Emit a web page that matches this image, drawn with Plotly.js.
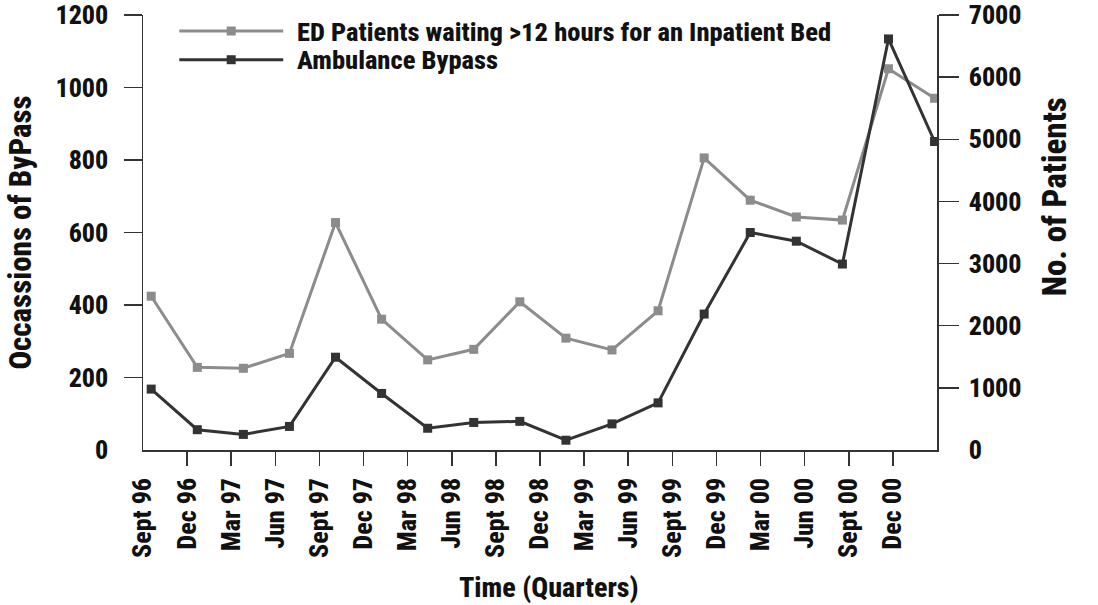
<!DOCTYPE html>
<html>
<head>
<meta charset="utf-8">
<script src="https://cdn.plot.ly/plotly-3.0.1.min.js"></script>
<style>
  html, body { margin: 0; padding: 0; background: #ffffff; }
  #chart { width: 1098px; height: 605px; }
</style>
</head>
<body>
<div id="chart"></div>
<script>
// ---- data ----
const quarters = ['Sept 96', 'Dec 96', 'Mar 97', 'Jun 97', 'Sept 97', 'Dec 97',
  'Mar 98', 'Jun 98', 'Sept 98', 'Dec 98', 'Mar 99', 'Jun 99',
  'Sept 99', 'Dec 99', 'Mar 00', 'Jun 00', 'Sept 00', 'Dec 00'];
const pointLabels = ['Q1', 'Q2', 'Q3', 'Q4', 'Q5', 'Q6', 'Q7', 'Q8', 'Q9',
  'Q10', 'Q11', 'Q12', 'Q13', 'Q14', 'Q15', 'Q16', 'Q17', 'Q18'];
const edPatientsWaiting = [2475, 1330, 1315, 1555, 3660, 2105, 1450, 1620, 2385,
  1800, 1610, 2240, 4700, 4020, 3750, 3700, 6135, 5660];
const ambulanceBypass = [168, 56, 43, 65, 256, 156, 60, 76, 79,
  27, 72, 130, 375, 600, 576, 513, 1134, 851];
const bypassTicks = [0, 200, 400, 600, 800, 1000, 1200];
const patientTicks = [0, 1000, 2000, 3000, 4000, 5000, 6000, 7000];
const seriesNames = ['ED Patients waiting >12 hours for an Inpatient Bed', 'Ambulance Bypass'];
const titles = {x: 'Time (Quarters)', left: 'Occassions of ByPass', right: 'No. of Patients'};

// ---- styling ----
const FONT = '"Roboto Condensed", "Open Sans Condensed", "Liberation Sans", sans-serif';
const W = 800;
const GREY = '#8c8c8c';
const DARK = '#333333';
const AXIS = '#333333';
const TXT = '#111111';

const traces = [
  { // anchors the primary (tick-label) x axis so that it is drawn
    x: [], y: [], xaxis: 'x', yaxis: 'y', type: 'scatter', mode: 'lines',
    showlegend: false, hoverinfo: 'skip'
  },
  {
    name: seriesNames[0], x: pointLabels, y: edPatientsWaiting,
    xaxis: 'x2', yaxis: 'y', type: 'scatter', mode: 'lines+markers',
    line: {color: GREY, width: 3},
    marker: {symbol: 'square', size: 9, color: GREY},
    cliponaxis: false, showlegend: false
  },
  {
    name: seriesNames[1], x: pointLabels, y: ambulanceBypass,
    xaxis: 'x2', yaxis: 'y2', type: 'scatter', mode: 'lines+markers',
    line: {color: DARK, width: 3},
    marker: {symbol: 'square', size: 9, color: DARK},
    cliponaxis: false, showlegend: false
  }
];

const tickIdx = quarters.map((q, i) => i);

const layout = {
  width: 1098, height: 605,
  margin: {l: 143, r: 161, t: 15, b: 155, autoexpand: false},
  paper_bgcolor: '#ffffff', plot_bgcolor: '#ffffff',
  font: {family: FONT, color: TXT, weight: W},
  showlegend: false,
  xaxis: {
    type: 'linear', range: [0, quarters.length], fixedrange: true,
    tickmode: 'array', tickvals: tickIdx, ticktext: quarters,
    tickangle: -90, ticks: '', 
    minor: {tickmode: 'array', tickvals: tickIdx.slice(1), ticks: 'outside',
      ticklen: 14, tickwidth: 1.5, tickcolor: AXIS, showgrid: false},
    showline: true, linecolor: AXIS, linewidth: 1.5,
    showgrid: false, zeroline: false,
    tickfont: {family: FONT, size: 26, weight: W, color: TXT},
    ticklabelstandoff: 16
  },
  xaxis2: {
    type: 'category', overlaying: 'x', visible: false,
    range: [-0.178, 17.053], fixedrange: true,
    showgrid: false, zeroline: false
  },
  yaxis: {
    side: 'right', range: [0, 7000], fixedrange: true,
    tickmode: 'array', tickvals: patientTicks, ticks: '',
    minor: {tickmode: 'array', tickvals: patientTicks.slice(1), ticks: 'outside',
      ticklen: 20, tickwidth: 1.5, tickcolor: AXIS, showgrid: false},
    showline: true, linecolor: AXIS, linewidth: 1.5,
    showgrid: false, zeroline: false,
    tickfont: {family: FONT, size: 26, weight: W, color: TXT},
    ticklabelstandoff: 25
  },
  yaxis2: {
    overlaying: 'y', side: 'left', range: [0, 1200], fixedrange: true,
    tickmode: 'array', tickvals: bypassTicks, ticks: '',
    minor: {tickmode: 'array', tickvals: bypassTicks.slice(1), ticks: 'outside',
      ticklen: 18, tickwidth: 1.5, tickcolor: AXIS, showgrid: false},
    showline: true, linecolor: AXIS, linewidth: 1.5,
    showgrid: false, zeroline: false,
    tickfont: {family: FONT, size: 26, weight: W, color: TXT},
    ticklabelstandoff: 28,
    title: {text: titles.left, standoff: 14,
      font: {family: FONT, size: 31, weight: W, color: TXT}}
  },
  shapes: [
    {type: 'line', xref: 'paper', yref: 'paper', x0: 0.0457, x1: 0.1766, y0: 0.9632, y1: 0.9632,
      line: {color: GREY, width: 3}},
    {type: 'line', xref: 'paper', yref: 'paper', x0: 0.0457, x1: 0.1766, y0: 0.8972, y1: 0.8972,
      line: {color: DARK, width: 3}},
    {type: 'rect', xref: 'paper', yref: 'paper', xsizemode: 'pixel', ysizemode: 'pixel',
      xanchor: 0.1111, yanchor: 0.9632, x0: -4.5, x1: 4.5, y0: -4.5, y1: 4.5,
      fillcolor: GREY, line: {width: 0}},
    {type: 'rect', xref: 'paper', yref: 'paper', xsizemode: 'pixel', ysizemode: 'pixel',
      xanchor: 0.1111, yanchor: 0.8972, x0: -4.5, x1: 4.5, y0: -4.5, y1: 4.5,
      fillcolor: DARK, line: {width: 0}}
  ],
  annotations: [
    {text: seriesNames[0], xref: 'paper', yref: 'paper', x: 0.1918, y: 0.9632,
      xanchor: 'left', yanchor: 'middle', showarrow: false,
      font: {family: FONT, size: 26.5, weight: W, color: TXT}},
    {text: seriesNames[1], xref: 'paper', yref: 'paper', x: 0.1918, y: 0.8972,
      xanchor: 'left', yanchor: 'middle', showarrow: false,
      font: {family: FONT, size: 26.5, weight: W, color: TXT}},
    {text: titles.x, xref: 'paper', yref: 'paper', x: 0.5117, y: -0.3152,
      xanchor: 'center', yanchor: 'middle', showarrow: false,
      font: {family: FONT, size: 28, weight: W, color: TXT}},
    {text: titles.right, xref: 'paper', yref: 'paper', x: 1.149, y: 0.582, textangle: -90,
      xanchor: 'center', yanchor: 'middle', showarrow: false,
      font: {family: FONT, size: 33, weight: W, color: TXT}}
  ]
};

Plotly.newPlot('chart', traces, layout, {staticPlot: true, displayModeBar: false});
</script>
</body>
</html>
